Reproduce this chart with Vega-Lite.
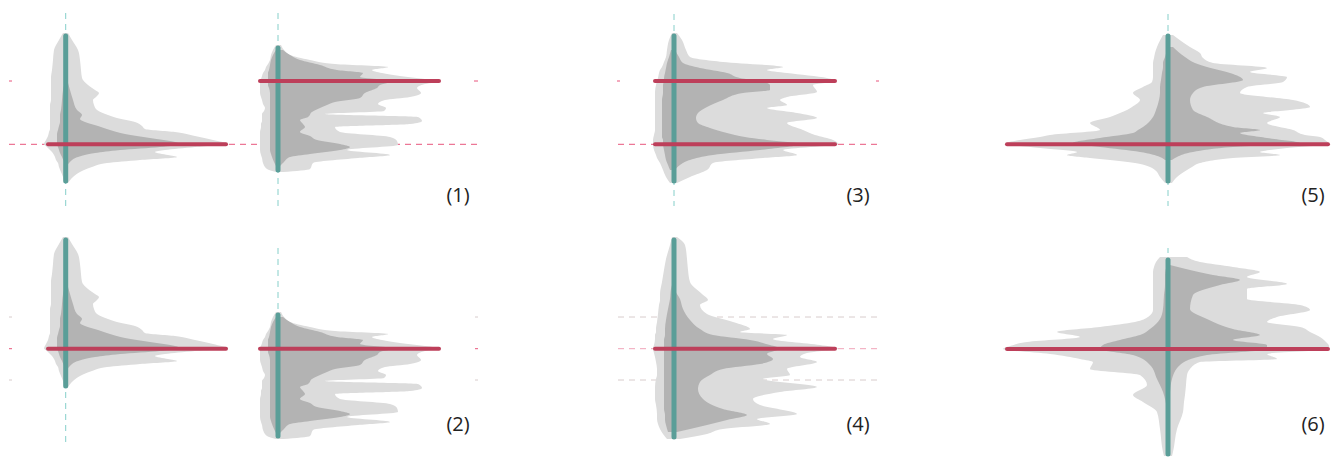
{
"$schema": "https://vega.github.io/schema/vega-lite/v6.json",
"width": 1331, "height": 457, "padding": 0,
"autosize": {"type": "fit", "contains": "padding"},
"config": {"view": {"stroke": null}},
"datasets": {
"shapes": [
{"s":"A","t":"light","y":33,"xl":63,"xr":68},{"s":"A","t":"light","y":40,"xl":59,"xr":72},{"s":"A","t":"light","y":50,"xl":54,"xr":78},{"s":"A","t":"light","y":60,"xl":53,"xr":80},{"s":"A","t":"light","y":70,"xl":52,"xr":81},{"s":"A","t":"light","y":78,"xl":51,"xr":82},{"s":"A","t":"light","y":85,"xl":51,"xr":88},{"s":"A","t":"light","y":90,"xl":51,"xr":95},{"s":"A","t":"light","y":93,"xl":51,"xr":99},{"s":"A","t":"light","y":97,"xl":51,"xr":96},{"s":"A","t":"light","y":100,"xl":51,"xr":93},{"s":"A","t":"light","y":105,"xl":50,"xr":94},{"s":"A","t":"light","y":110,"xl":50,"xr":97},{"s":"A","t":"light","y":115,"xl":50,"xr":108},{"s":"A","t":"light","y":118,"xl":50,"xr":117},{"s":"A","t":"light","y":122,"xl":50,"xr":135},{"s":"A","t":"light","y":126,"xl":50,"xr":142},{"s":"A","t":"light","y":129,"xl":50,"xr":145},{"s":"A","t":"light","y":132,"xl":49,"xr":175},{"s":"A","t":"light","y":136,"xl":48,"xr":195},{"s":"A","t":"light","y":140,"xl":46,"xr":213},{"s":"A","t":"light","y":144,"xl":44,"xr":228},{"s":"A","t":"light","y":147,"xl":47,"xr":195},{"s":"A","t":"light","y":150,"xl":50,"xr":165},{"s":"A","t":"light","y":152,"xl":52,"xr":155},{"s":"A","t":"light","y":155,"xl":54,"xr":168},{"s":"A","t":"light","y":157,"xl":55,"xr":177},{"s":"A","t":"light","y":160,"xl":56,"xr":140},{"s":"A","t":"light","y":163,"xl":58,"xr":107},{"s":"A","t":"light","y":167,"xl":59,"xr":92},{"s":"A","t":"light","y":172,"xl":61,"xr":80},{"s":"A","t":"light","y":177,"xl":63,"xr":73},{"s":"A","t":"light","y":183,"xl":64,"xr":68},
{"s":"A","t":"dark","y":83,"xl":64.5,"xr":68},{"s":"A","t":"dark","y":90,"xl":63,"xr":70},{"s":"A","t":"dark","y":100,"xl":62,"xr":73},{"s":"A","t":"dark","y":110,"xl":61,"xr":77},{"s":"A","t":"dark","y":115,"xl":60,"xr":82},{"s":"A","t":"dark","y":119,"xl":60,"xr":80},{"s":"A","t":"dark","y":122,"xl":60,"xr":85},{"s":"A","t":"dark","y":126,"xl":59,"xr":98},{"s":"A","t":"dark","y":130,"xl":58,"xr":110},{"s":"A","t":"dark","y":134,"xl":57,"xr":125},{"s":"A","t":"dark","y":138,"xl":57,"xr":150},{"s":"A","t":"dark","y":142,"xl":57,"xr":175},{"s":"A","t":"dark","y":144,"xl":57,"xr":180},{"s":"A","t":"dark","y":147,"xl":58,"xr":160},{"s":"A","t":"dark","y":150,"xl":59,"xr":120},{"s":"A","t":"dark","y":153,"xl":60,"xr":95},{"s":"A","t":"dark","y":157,"xl":62,"xr":78},{"s":"A","t":"dark","y":162,"xl":64,"xr":70},{"s":"A","t":"dark","y":166,"xl":65,"xr":67},

{"s":"A2","t":"light","y":237,"xl":63,"xr":68},{"s":"A2","t":"light","y":244,"xl":59,"xr":72},{"s":"A2","t":"light","y":254,"xl":54,"xr":78},{"s":"A2","t":"light","y":264,"xl":53,"xr":80},{"s":"A2","t":"light","y":274,"xl":52,"xr":81},{"s":"A2","t":"light","y":282,"xl":51,"xr":82},{"s":"A2","t":"light","y":289,"xl":51,"xr":88},{"s":"A2","t":"light","y":294,"xl":51,"xr":95},{"s":"A2","t":"light","y":297,"xl":51,"xr":99},{"s":"A2","t":"light","y":301,"xl":51,"xr":96},{"s":"A2","t":"light","y":304,"xl":51,"xr":93},{"s":"A2","t":"light","y":309,"xl":50,"xr":94},{"s":"A2","t":"light","y":314,"xl":50,"xr":97},{"s":"A2","t":"light","y":319,"xl":50,"xr":108},{"s":"A2","t":"light","y":322,"xl":50,"xr":117},{"s":"A2","t":"light","y":326,"xl":50,"xr":135},{"s":"A2","t":"light","y":330,"xl":50,"xr":142},{"s":"A2","t":"light","y":333,"xl":50,"xr":145},{"s":"A2","t":"light","y":336,"xl":49,"xr":175},{"s":"A2","t":"light","y":340,"xl":48,"xr":195},{"s":"A2","t":"light","y":344,"xl":46,"xr":213},{"s":"A2","t":"light","y":348.5,"xl":44,"xr":228},{"s":"A2","t":"light","y":351,"xl":47,"xr":195},{"s":"A2","t":"light","y":354,"xl":50,"xr":165},{"s":"A2","t":"light","y":356,"xl":52,"xr":155},{"s":"A2","t":"light","y":359,"xl":54,"xr":168},{"s":"A2","t":"light","y":361,"xl":55,"xr":177},{"s":"A2","t":"light","y":364,"xl":56,"xr":140},{"s":"A2","t":"light","y":367,"xl":58,"xr":107},{"s":"A2","t":"light","y":371,"xl":59,"xr":92},{"s":"A2","t":"light","y":376,"xl":61,"xr":80},{"s":"A2","t":"light","y":381,"xl":63,"xr":73},{"s":"A2","t":"light","y":387,"xl":64,"xr":68},
{"s":"A2","t":"dark","y":287,"xl":64.5,"xr":68},{"s":"A2","t":"dark","y":294,"xl":63,"xr":70},{"s":"A2","t":"dark","y":304,"xl":62,"xr":73},{"s":"A2","t":"dark","y":314,"xl":61,"xr":77},{"s":"A2","t":"dark","y":319,"xl":60,"xr":82},{"s":"A2","t":"dark","y":323,"xl":60,"xr":80},{"s":"A2","t":"dark","y":326,"xl":60,"xr":85},{"s":"A2","t":"dark","y":330,"xl":59,"xr":98},{"s":"A2","t":"dark","y":334,"xl":58,"xr":110},{"s":"A2","t":"dark","y":338,"xl":57,"xr":125},{"s":"A2","t":"dark","y":342,"xl":57,"xr":150},{"s":"A2","t":"dark","y":346,"xl":57,"xr":175},{"s":"A2","t":"dark","y":348.5,"xl":57,"xr":180},{"s":"A2","t":"dark","y":351,"xl":58,"xr":160},{"s":"A2","t":"dark","y":354,"xl":59,"xr":120},{"s":"A2","t":"dark","y":357,"xl":60,"xr":95},{"s":"A2","t":"dark","y":361,"xl":62,"xr":78},{"s":"A2","t":"dark","y":366,"xl":64,"xr":70},{"s":"A2","t":"dark","y":370,"xl":65,"xr":67},

{"s":"B","t":"light","y":45,"xl":276,"xr":281},{"s":"B","t":"light","y":50,"xl":273,"xr":284},{"s":"B","t":"light","y":55,"xl":271,"xr":290},{"s":"B","t":"light","y":60,"xl":270,"xr":310},{"s":"B","t":"light","y":64,"xl":268,"xr":335},{"s":"B","t":"light","y":67,"xl":266,"xr":388},{"s":"B","t":"light","y":70,"xl":265,"xr":372},{"s":"B","t":"light","y":73,"xl":263,"xr":382},{"s":"B","t":"light","y":76,"xl":262,"xr":400},{"s":"B","t":"light","y":79,"xl":261,"xr":425},{"s":"B","t":"light","y":81,"xl":260,"xr":441},{"s":"B","t":"light","y":84,"xl":260,"xr":425},{"s":"B","t":"light","y":88,"xl":260,"xr":417},{"s":"B","t":"light","y":93,"xl":260,"xr":421},{"s":"B","t":"light","y":97,"xl":261,"xr":410},{"s":"B","t":"light","y":100,"xl":262,"xr":385},{"s":"B","t":"light","y":104,"xl":263,"xr":378},{"s":"B","t":"light","y":108,"xl":265,"xr":386},{"s":"B","t":"light","y":111,"xl":264,"xr":384},{"s":"B","t":"light","y":114,"xl":262,"xr":325},{"s":"B","t":"light","y":117,"xl":262,"xr":418},{"s":"B","t":"light","y":121,"xl":262,"xr":422},{"s":"B","t":"light","y":124,"xl":261,"xr":410},{"s":"B","t":"light","y":127,"xl":261,"xr":335},{"s":"B","t":"light","y":132,"xl":260,"xr":340},{"s":"B","t":"light","y":137,"xl":260,"xr":390},{"s":"B","t":"light","y":141,"xl":260,"xr":397},{"s":"B","t":"light","y":145,"xl":260,"xr":398},{"s":"B","t":"light","y":150,"xl":260,"xr":347},{"s":"B","t":"light","y":155,"xl":261,"xr":390},{"s":"B","t":"light","y":158,"xl":262,"xr":358},{"s":"B","t":"light","y":163,"xl":263,"xr":313},{"s":"B","t":"light","y":169,"xl":267,"xr":310},{"s":"B","t":"light","y":172,"xl":276,"xr":283},
{"s":"B","t":"dark","y":50,"xl":276,"xr":283},{"s":"B","t":"dark","y":55,"xl":273,"xr":290},{"s":"B","t":"dark","y":60,"xl":271,"xr":300},{"s":"B","t":"dark","y":65,"xl":270,"xr":320},{"s":"B","t":"dark","y":70,"xl":269,"xr":337},{"s":"B","t":"dark","y":73,"xl":268,"xr":363},{"s":"B","t":"dark","y":77,"xl":268,"xr":360},{"s":"B","t":"dark","y":81,"xl":268,"xr":393},{"s":"B","t":"dark","y":85,"xl":268,"xr":380},{"s":"B","t":"dark","y":88,"xl":269,"xr":377},{"s":"B","t":"dark","y":93,"xl":270,"xr":365},{"s":"B","t":"dark","y":98,"xl":270,"xr":360},{"s":"B","t":"dark","y":102,"xl":270,"xr":335},{"s":"B","t":"dark","y":105,"xl":270,"xr":327},{"s":"B","t":"dark","y":108,"xl":270,"xr":320},{"s":"B","t":"dark","y":112,"xl":270,"xr":312},{"s":"B","t":"dark","y":117,"xl":270,"xr":308},{"s":"B","t":"dark","y":120,"xl":270,"xr":300},{"s":"B","t":"dark","y":124,"xl":270,"xr":303},{"s":"B","t":"dark","y":127,"xl":270,"xr":305},{"s":"B","t":"dark","y":132,"xl":270,"xr":300},{"s":"B","t":"dark","y":136,"xl":270,"xr":310},{"s":"B","t":"dark","y":140,"xl":270,"xr":317},{"s":"B","t":"dark","y":144,"xl":270,"xr":340},{"s":"B","t":"dark","y":147,"xl":270,"xr":350},{"s":"B","t":"dark","y":150,"xl":270,"xr":340},{"s":"B","t":"dark","y":154,"xl":271,"xr":310},{"s":"B","t":"dark","y":157,"xl":272,"xr":290},{"s":"B","t":"dark","y":162,"xl":274,"xr":284},{"s":"B","t":"dark","y":166,"xl":276,"xr":280},

{"s":"B2","t":"light","y":312,"xl":276,"xr":281},{"s":"B2","t":"light","y":317,"xl":273,"xr":284},{"s":"B2","t":"light","y":322,"xl":271,"xr":290},{"s":"B2","t":"light","y":327,"xl":270,"xr":310},{"s":"B2","t":"light","y":331,"xl":268,"xr":335},{"s":"B2","t":"light","y":334,"xl":266,"xr":388},{"s":"B2","t":"light","y":337,"xl":265,"xr":372},{"s":"B2","t":"light","y":340,"xl":263,"xr":382},{"s":"B2","t":"light","y":343,"xl":262,"xr":400},{"s":"B2","t":"light","y":346,"xl":261,"xr":425},{"s":"B2","t":"light","y":348.5,"xl":260,"xr":441},{"s":"B2","t":"light","y":351,"xl":260,"xr":425},{"s":"B2","t":"light","y":355,"xl":260,"xr":417},{"s":"B2","t":"light","y":360,"xl":260,"xr":421},{"s":"B2","t":"light","y":364,"xl":261,"xr":410},{"s":"B2","t":"light","y":367,"xl":262,"xr":385},{"s":"B2","t":"light","y":371,"xl":263,"xr":378},{"s":"B2","t":"light","y":375,"xl":265,"xr":386},{"s":"B2","t":"light","y":378,"xl":264,"xr":384},{"s":"B2","t":"light","y":381,"xl":262,"xr":325},{"s":"B2","t":"light","y":384,"xl":262,"xr":418},{"s":"B2","t":"light","y":388,"xl":262,"xr":422},{"s":"B2","t":"light","y":391,"xl":261,"xr":410},{"s":"B2","t":"light","y":394,"xl":261,"xr":335},{"s":"B2","t":"light","y":399,"xl":260,"xr":340},{"s":"B2","t":"light","y":404,"xl":260,"xr":390},{"s":"B2","t":"light","y":408,"xl":260,"xr":397},{"s":"B2","t":"light","y":412,"xl":260,"xr":398},{"s":"B2","t":"light","y":417,"xl":260,"xr":347},{"s":"B2","t":"light","y":422,"xl":261,"xr":390},{"s":"B2","t":"light","y":425,"xl":262,"xr":358},{"s":"B2","t":"light","y":430,"xl":263,"xr":313},{"s":"B2","t":"light","y":436,"xl":267,"xr":310},{"s":"B2","t":"light","y":439,"xl":276,"xr":283},
{"s":"B2","t":"dark","y":317,"xl":276,"xr":283},{"s":"B2","t":"dark","y":322,"xl":273,"xr":290},{"s":"B2","t":"dark","y":327,"xl":271,"xr":300},{"s":"B2","t":"dark","y":332,"xl":270,"xr":320},{"s":"B2","t":"dark","y":337,"xl":269,"xr":337},{"s":"B2","t":"dark","y":340,"xl":268,"xr":363},{"s":"B2","t":"dark","y":344,"xl":268,"xr":360},{"s":"B2","t":"dark","y":348.5,"xl":268,"xr":393},{"s":"B2","t":"dark","y":352,"xl":268,"xr":380},{"s":"B2","t":"dark","y":355,"xl":269,"xr":377},{"s":"B2","t":"dark","y":360,"xl":270,"xr":365},{"s":"B2","t":"dark","y":365,"xl":270,"xr":360},{"s":"B2","t":"dark","y":369,"xl":270,"xr":335},{"s":"B2","t":"dark","y":372,"xl":270,"xr":327},{"s":"B2","t":"dark","y":375,"xl":270,"xr":320},{"s":"B2","t":"dark","y":379,"xl":270,"xr":312},{"s":"B2","t":"dark","y":384,"xl":270,"xr":308},{"s":"B2","t":"dark","y":387,"xl":270,"xr":300},{"s":"B2","t":"dark","y":391,"xl":270,"xr":303},{"s":"B2","t":"dark","y":394,"xl":270,"xr":305},{"s":"B2","t":"dark","y":399,"xl":270,"xr":300},{"s":"B2","t":"dark","y":403,"xl":270,"xr":310},{"s":"B2","t":"dark","y":407,"xl":270,"xr":317},{"s":"B2","t":"dark","y":411,"xl":270,"xr":340},{"s":"B2","t":"dark","y":414,"xl":270,"xr":350},{"s":"B2","t":"dark","y":417,"xl":270,"xr":340},{"s":"B2","t":"dark","y":421,"xl":271,"xr":310},{"s":"B2","t":"dark","y":424,"xl":272,"xr":290},{"s":"B2","t":"dark","y":429,"xl":274,"xr":284},{"s":"B2","t":"dark","y":433,"xl":276,"xr":280},

{"s":"C","t":"light","y":33,"xl":672,"xr":677},{"s":"C","t":"light","y":40,"xl":669,"xr":682},{"s":"C","t":"light","y":50,"xl":667,"xr":686},{"s":"C","t":"light","y":57,"xl":666,"xr":690},{"s":"C","t":"light","y":62,"xl":664,"xr":723},{"s":"C","t":"light","y":67,"xl":662,"xr":783},{"s":"C","t":"light","y":70,"xl":660,"xr":767},{"s":"C","t":"light","y":73,"xl":659,"xr":787},{"s":"C","t":"light","y":78,"xl":658,"xr":827},{"s":"C","t":"light","y":81,"xl":657,"xr":837},{"s":"C","t":"light","y":85,"xl":656,"xr":813},{"s":"C","t":"light","y":92,"xl":655,"xr":817},{"s":"C","t":"light","y":97,"xl":655,"xr":787},{"s":"C","t":"light","y":100,"xl":655,"xr":780},{"s":"C","t":"light","y":105,"xl":655,"xr":787},{"s":"C","t":"light","y":108,"xl":655,"xr":767},{"s":"C","t":"light","y":113,"xl":655,"xr":797},{"s":"C","t":"light","y":118,"xl":655,"xr":817},{"s":"C","t":"light","y":123,"xl":655,"xr":787},{"s":"C","t":"light","y":130,"xl":655,"xr":803},{"s":"C","t":"light","y":135,"xl":654,"xr":815},{"s":"C","t":"light","y":140,"xl":653,"xr":833},{"s":"C","t":"light","y":144,"xl":653,"xr":838},{"s":"C","t":"light","y":150,"xl":654,"xr":783},{"s":"C","t":"light","y":155,"xl":656,"xr":797},{"s":"C","t":"light","y":158,"xl":657,"xr":763},{"s":"C","t":"light","y":163,"xl":660,"xr":713},{"s":"C","t":"light","y":170,"xl":663,"xr":707},{"s":"C","t":"light","y":177,"xl":666,"xr":690},{"s":"C","t":"light","y":183,"xl":670,"xr":677},
{"s":"C","t":"dark","y":50,"xl":671,"xr":675},{"s":"C","t":"dark","y":57,"xl":669,"xr":679},{"s":"C","t":"dark","y":63,"xl":667,"xr":683},{"s":"C","t":"dark","y":68,"xl":666,"xr":700},{"s":"C","t":"dark","y":73,"xl":665,"xr":727},{"s":"C","t":"dark","y":78,"xl":664,"xr":740},{"s":"C","t":"dark","y":81,"xl":664,"xr":760},{"s":"C","t":"dark","y":85,"xl":663,"xr":770},{"s":"C","t":"dark","y":90,"xl":663,"xr":770},{"s":"C","t":"dark","y":93,"xl":663,"xr":743},{"s":"C","t":"dark","y":100,"xl":662,"xr":723},{"s":"C","t":"dark","y":107,"xl":662,"xr":707},{"s":"C","t":"dark","y":113,"xl":662,"xr":698},{"s":"C","t":"dark","y":118,"xl":662,"xr":696},{"s":"C","t":"dark","y":123,"xl":662,"xr":698},{"s":"C","t":"dark","y":128,"xl":662,"xr":710},{"s":"C","t":"dark","y":133,"xl":662,"xr":727},{"s":"C","t":"dark","y":137,"xl":662,"xr":745},{"s":"C","t":"dark","y":140,"xl":663,"xr":767},{"s":"C","t":"dark","y":144,"xl":663,"xr":800},{"s":"C","t":"dark","y":150,"xl":664,"xr":760},{"s":"C","t":"dark","y":155,"xl":665,"xr":713},{"s":"C","t":"dark","y":160,"xl":666,"xr":690},{"s":"C","t":"dark","y":165,"xl":668,"xr":680},{"s":"C","t":"dark","y":170,"xl":670,"xr":675},

{"s":"D","t":"light","y":237,"xl":672,"xr":677},{"s":"D","t":"light","y":245,"xl":670,"xr":685},{"s":"D","t":"light","y":259,"xl":666,"xr":687},{"s":"D","t":"light","y":270,"xl":664,"xr":688},{"s":"D","t":"light","y":282,"xl":662,"xr":690},{"s":"D","t":"light","y":294,"xl":660,"xr":702},{"s":"D","t":"light","y":300,"xl":660,"xr":708},{"s":"D","t":"light","y":305,"xl":659,"xr":700},{"s":"D","t":"light","y":314,"xl":658,"xr":707},{"s":"D","t":"light","y":322,"xl":657,"xr":733},{"s":"D","t":"light","y":329,"xl":656,"xr":750},{"s":"D","t":"light","y":332,"xl":656,"xr":740},{"s":"D","t":"light","y":335,"xl":655,"xr":787},{"s":"D","t":"light","y":339,"xl":655,"xr":773},{"s":"D","t":"light","y":345,"xl":654,"xr":820},{"s":"D","t":"light","y":348.5,"xl":653,"xr":838},{"s":"D","t":"light","y":353,"xl":654,"xr":807},{"s":"D","t":"light","y":357,"xl":655,"xr":800},{"s":"D","t":"light","y":362,"xl":656,"xr":817},{"s":"D","t":"light","y":369,"xl":657,"xr":787},{"s":"D","t":"light","y":375,"xl":657,"xr":790},{"s":"D","t":"light","y":379,"xl":656,"xr":763},{"s":"D","t":"light","y":387,"xl":655,"xr":817},{"s":"D","t":"light","y":392,"xl":655,"xr":780},{"s":"D","t":"light","y":399,"xl":655,"xr":753},{"s":"D","t":"light","y":405,"xl":656,"xr":760},{"s":"D","t":"light","y":414,"xl":657,"xr":797},{"s":"D","t":"light","y":419,"xl":657,"xr":757},{"s":"D","t":"light","y":424,"xl":658,"xr":770},{"s":"D","t":"light","y":429,"xl":660,"xr":723},{"s":"D","t":"light","y":434,"xl":663,"xr":707},{"s":"D","t":"light","y":439,"xl":667,"xr":680},
{"s":"D","t":"dark","y":285,"xl":672,"xr":675},{"s":"D","t":"dark","y":289,"xl":671,"xr":675},{"s":"D","t":"dark","y":299,"xl":670,"xr":680},{"s":"D","t":"dark","y":309,"xl":668,"xr":683},{"s":"D","t":"dark","y":320,"xl":666,"xr":690},{"s":"D","t":"dark","y":329,"xl":665,"xr":700},{"s":"D","t":"dark","y":335,"xl":665,"xr":713},{"s":"D","t":"dark","y":340,"xl":664,"xr":750},{"s":"D","t":"dark","y":345,"xl":664,"xr":770},{"s":"D","t":"dark","y":348.5,"xl":664,"xr":780},{"s":"D","t":"dark","y":354,"xl":664,"xr":767},{"s":"D","t":"dark","y":359,"xl":664,"xr":773},{"s":"D","t":"dark","y":364,"xl":664,"xr":760},{"s":"D","t":"dark","y":369,"xl":664,"xr":723},{"s":"D","t":"dark","y":375,"xl":664,"xr":710},{"s":"D","t":"dark","y":382,"xl":664,"xr":700},{"s":"D","t":"dark","y":389,"xl":664,"xr":698},{"s":"D","t":"dark","y":399,"xl":664,"xr":703},{"s":"D","t":"dark","y":409,"xl":664,"xr":723},{"s":"D","t":"dark","y":415,"xl":665,"xr":747},{"s":"D","t":"dark","y":420,"xl":665,"xr":727},{"s":"D","t":"dark","y":425,"xl":666,"xr":707},{"s":"D","t":"dark","y":432,"xl":668,"xr":677},

{"s":"E","t":"light","y":35,"xl":1163,"xr":1173},{"s":"E","t":"light","y":47,"xl":1157,"xr":1190},{"s":"E","t":"light","y":53,"xl":1155,"xr":1200},{"s":"E","t":"light","y":58,"xl":1154,"xr":1203},{"s":"E","t":"light","y":63,"xl":1153,"xr":1213},{"s":"E","t":"light","y":68,"xl":1153,"xr":1267},{"s":"E","t":"light","y":72,"xl":1153,"xr":1250},{"s":"E","t":"light","y":77,"xl":1153,"xr":1287},{"s":"E","t":"light","y":82,"xl":1152,"xr":1283},{"s":"E","t":"light","y":87,"xl":1143,"xr":1247},{"s":"E","t":"light","y":93,"xl":1133,"xr":1240},{"s":"E","t":"light","y":100,"xl":1140,"xr":1293},{"s":"E","t":"light","y":107,"xl":1132,"xr":1310},{"s":"E","t":"light","y":110,"xl":1127,"xr":1290},{"s":"E","t":"light","y":113,"xl":1120,"xr":1263},{"s":"E","t":"light","y":117,"xl":1110,"xr":1280},{"s":"E","t":"light","y":123,"xl":1090,"xr":1267},{"s":"E","t":"light","y":130,"xl":1100,"xr":1293},{"s":"E","t":"light","y":135,"xl":1050,"xr":1305},{"s":"E","t":"light","y":137,"xl":1040,"xr":1320},{"s":"E","t":"light","y":140,"xl":1020,"xr":1325},{"s":"E","t":"light","y":144,"xl":1005,"xr":1329},{"s":"E","t":"light","y":148,"xl":1040,"xr":1287},{"s":"E","t":"light","y":152,"xl":1077,"xr":1260},{"s":"E","t":"light","y":155,"xl":1067,"xr":1280},{"s":"E","t":"light","y":158,"xl":1090,"xr":1233},{"s":"E","t":"light","y":160,"xl":1110,"xr":1215},{"s":"E","t":"light","y":163,"xl":1135,"xr":1200},{"s":"E","t":"light","y":167,"xl":1150,"xr":1192},{"s":"E","t":"light","y":170,"xl":1155,"xr":1187},{"s":"E","t":"light","y":177,"xl":1160,"xr":1177},{"s":"E","t":"light","y":183,"xl":1165,"xr":1172},
{"s":"E","t":"dark","y":47,"xl":1168,"xr":1173},{"s":"E","t":"dark","y":57,"xl":1165,"xr":1185},{"s":"E","t":"dark","y":63,"xl":1163,"xr":1195},{"s":"E","t":"dark","y":67,"xl":1163,"xr":1207},{"s":"E","t":"dark","y":73,"xl":1162,"xr":1230},{"s":"E","t":"dark","y":80,"xl":1161,"xr":1243},{"s":"E","t":"dark","y":87,"xl":1160,"xr":1203},{"s":"E","t":"dark","y":93,"xl":1160,"xr":1193},{"s":"E","t":"dark","y":100,"xl":1159,"xr":1190},{"s":"E","t":"dark","y":110,"xl":1156,"xr":1193},{"s":"E","t":"dark","y":117,"xl":1153,"xr":1207},{"s":"E","t":"dark","y":127,"xl":1143,"xr":1233},{"s":"E","t":"dark","y":130,"xl":1138,"xr":1260},{"s":"E","t":"dark","y":133,"xl":1133,"xr":1240},{"s":"E","t":"dark","y":138,"xl":1100,"xr":1267},{"s":"E","t":"dark","y":143,"xl":1073,"xr":1300},{"s":"E","t":"dark","y":147,"xl":1100,"xr":1233},{"s":"E","t":"dark","y":152,"xl":1140,"xr":1193},{"s":"E","t":"dark","y":157,"xl":1160,"xr":1177},{"s":"E","t":"dark","y":160,"xl":1165,"xr":1172},

{"s":"F","t":"light","y":257,"xl":1160,"xr":1187},{"s":"F","t":"light","y":262,"xl":1156,"xr":1200},{"s":"F","t":"light","y":267,"xl":1154,"xr":1233},{"s":"F","t":"light","y":272,"xl":1153,"xr":1260},{"s":"F","t":"light","y":277,"xl":1153,"xr":1247},{"s":"F","t":"light","y":284,"xl":1153,"xr":1287},{"s":"F","t":"light","y":289,"xl":1153,"xr":1247},{"s":"F","t":"light","y":299,"xl":1153,"xr":1247},{"s":"F","t":"light","y":305,"xl":1153,"xr":1300},{"s":"F","t":"light","y":310,"xl":1153,"xr":1310},{"s":"F","t":"light","y":317,"xl":1148,"xr":1277},{"s":"F","t":"light","y":322,"xl":1135,"xr":1267},{"s":"F","t":"light","y":327,"xl":1100,"xr":1300},{"s":"F","t":"light","y":332,"xl":1057,"xr":1310},{"s":"F","t":"light","y":337,"xl":1080,"xr":1320},{"s":"F","t":"light","y":342,"xl":1027,"xr":1326},{"s":"F","t":"light","y":346,"xl":1010,"xr":1329},{"s":"F","t":"light","y":349,"xl":1003,"xr":1329},{"s":"F","t":"light","y":354,"xl":1050,"xr":1267},{"s":"F","t":"light","y":359,"xl":1080,"xr":1277},{"s":"F","t":"light","y":362,"xl":1093,"xr":1200},{"s":"F","t":"light","y":369,"xl":1090,"xr":1190},{"s":"F","t":"light","y":375,"xl":1140,"xr":1187},{"s":"F","t":"light","y":385,"xl":1147,"xr":1186},{"s":"F","t":"light","y":395,"xl":1133,"xr":1185},{"s":"F","t":"light","y":402,"xl":1143,"xr":1184},{"s":"F","t":"light","y":412,"xl":1157,"xr":1183},{"s":"F","t":"light","y":429,"xl":1160,"xr":1177},{"s":"F","t":"light","y":452,"xl":1163,"xr":1173},{"s":"F","t":"light","y":456,"xl":1164,"xr":1172},
{"s":"F","t":"dark","y":265,"xl":1167,"xr":1170},{"s":"F","t":"dark","y":275,"xl":1165,"xr":1213},{"s":"F","t":"dark","y":280,"xl":1165,"xr":1240},{"s":"F","t":"dark","y":285,"xl":1165,"xr":1220},{"s":"F","t":"dark","y":295,"xl":1164,"xr":1193},{"s":"F","t":"dark","y":309,"xl":1163,"xr":1190},{"s":"F","t":"dark","y":319,"xl":1160,"xr":1207},{"s":"F","t":"dark","y":329,"xl":1150,"xr":1233},{"s":"F","t":"dark","y":335,"xl":1140,"xr":1260},{"s":"F","t":"dark","y":340,"xl":1120,"xr":1233},{"s":"F","t":"dark","y":345,"xl":1103,"xr":1267},{"s":"F","t":"dark","y":349,"xl":1100,"xr":1267},{"s":"F","t":"dark","y":355,"xl":1133,"xr":1207},{"s":"F","t":"dark","y":365,"xl":1150,"xr":1180},{"s":"F","t":"dark","y":379,"xl":1157,"xr":1172},{"s":"F","t":"dark","y":392,"xl":1163,"xr":1170},{"s":"F","t":"dark","y":409,"xl":1167,"xr":1169}
],
"hguides": [
{"k":"red","y":144.3,"x":9,"x2":478},{"k":"red","y":144.3,"x":618,"x2":878},
{"k":"red","y":81,"x":9,"x2":12},{"k":"red","y":81,"x":474,"x2":478},{"k":"red","y":81,"x":617,"x2":620},{"k":"red","y":81,"x":876,"x2":879},
{"k":"red","y":348.7,"x":9,"x2":12},{"k":"red","y":348.7,"x":475,"x2":478},
{"k":"gray","y":317,"x":9,"x2":12},{"k":"gray","y":317,"x":475,"x2":478},{"k":"gray","y":380,"x":9,"x2":12},{"k":"gray","y":380,"x":475,"x2":478},
{"k":"gray","y":317,"x":618,"x2":878},{"k":"gray","y":380,"x":618,"x2":878},{"k":"pale","y":348.7,"x":618,"x2":878}
],
"vguides": [
{"x":65.7,"y":13,"y2":206},{"x":278,"y":13,"y2":206},{"x":65.7,"y":392,"y2":445},{"x":278,"y":248,"y2":313},
{"x":674,"y":14,"y2":206},{"x":1168,"y":14,"y2":206},{"x":1168,"y":248,"y2":253}
],
"teal": [
{"x":65.7,"y":36,"y2":181},{"x":278,"y":48,"y2":170},{"x":65.7,"y":240,"y2":386},{"x":278,"y":315,"y2":436},
{"x":674,"y":36,"y2":181},{"x":674,"y":240,"y2":437},{"x":1168,"y":36,"y2":181},{"x":1168,"y":260,"y2":454}
],
"red": [
{"y":144.3,"x":48,"x2":226},{"y":81,"x":260,"x2":439},{"y":348.7,"x":48,"x2":226},{"y":348.7,"x":260,"x2":439},
{"y":81,"x":655,"x2":835},{"y":144.3,"x":655,"x2":835},{"y":348.7,"x":655,"x2":835},
{"y":144.3,"x":1007,"x2":1328},{"y":349,"x":1007,"x2":1328}
],
"labels": [
{"x":458,"y":196,"t":"(1)"},{"x":458,"y":425,"t":"(2)"},{"x":858,"y":196,"t":"(3)"},{"x":858,"y":425,"t":"(4)"},{"x":1313,"y":196,"t":"(5)"},{"x":1313,"y":425,"t":"(6)"}
]
},
"resolve": {"scale": {"color": "independent"}},
"layer": [
{"data": {"name": "hguides"},
 "mark": {"type": "rule", "strokeWidth": 1, "strokeDash": [6, 5]},
 "encoding": {
  "x": {"field": "x", "type": "quantitative", "scale": {"domain": [0, 1331], "nice": false, "zero": false}, "axis": null},
  "x2": {"field": "x2"},
  "y": {"field": "y", "type": "quantitative", "scale": {"domain": [0, 457], "nice": false, "zero": false, "reverse": true}, "axis": null},
  "color": {"field": "k", "type": "nominal", "scale": {"domain": ["red", "gray", "pale"], "range": ["#e8557c", "#d8cccc", "#f0a3b8"]}, "legend": null}
 }},
{"data": {"name": "vguides"},
 "mark": {"type": "rule", "strokeWidth": 1, "strokeDash": [6, 5], "color": "#86cfca"},
 "encoding": {
  "x": {"field": "x", "type": "quantitative"},
  "y": {"field": "y", "type": "quantitative"},
  "y2": {"field": "y2"}
 }},
{"data": {"name": "shapes"},
 "transform": [{"filter": "datum.t === 'light'"}],
 "mark": {"type": "area", "orient": "horizontal", "interpolate": "monotone", "color": "#dcdcdc", "opacity": 1},
 "encoding": {
  "y": {"field": "y", "type": "quantitative"},
  "x": {"field": "xl", "type": "quantitative"},
  "x2": {"field": "xr"},
  "detail": {"field": "s", "type": "nominal"}
 }},
{"data": {"name": "shapes"},
 "transform": [{"filter": "datum.t === 'dark'"}],
 "mark": {"type": "area", "orient": "horizontal", "interpolate": "monotone", "color": "#b3b3b3", "opacity": 1},
 "encoding": {
  "y": {"field": "y", "type": "quantitative"},
  "x": {"field": "xl", "type": "quantitative"},
  "x2": {"field": "xr"},
  "detail": {"field": "s", "type": "nominal"}
 }},
{"data": {"name": "teal"},
 "mark": {"type": "rule", "strokeWidth": 5, "strokeCap": "round", "color": "#5a9e98"},
 "encoding": {
  "x": {"field": "x", "type": "quantitative"},
  "y": {"field": "y", "type": "quantitative"},
  "y2": {"field": "y2"}
 }},
{"data": {"name": "red"},
 "mark": {"type": "rule", "strokeWidth": 4, "strokeCap": "round", "color": "#bd3f5a"},
 "encoding": {
  "y": {"field": "y", "type": "quantitative"},
  "x": {"field": "x", "type": "quantitative"},
  "x2": {"field": "x2"}
 }},
{"data": {"name": "labels"},
 "mark": {"type": "text", "font": "Open Sans", "fontSize": 20, "color": "#222222", "align": "center", "baseline": "middle"},
 "encoding": {
  "x": {"field": "x", "type": "quantitative"},
  "y": {"field": "y", "type": "quantitative"},
  "text": {"field": "t"}
 }}
]
}
